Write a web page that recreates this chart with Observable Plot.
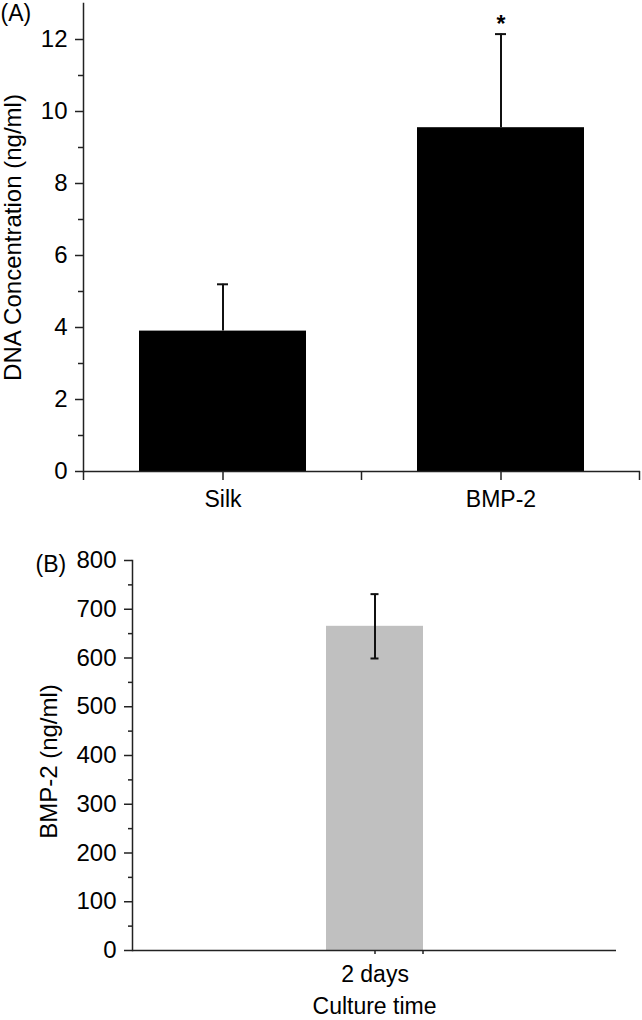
<!DOCTYPE html>
<html>
<head>
<meta charset="utf-8">
<script src="https://cdn.jsdelivr.net/npm/d3@7"></script>
<script src="https://cdn.jsdelivr.net/npm/@observablehq/plot@0.6"></script>
<style>
  html, body { margin: 0; padding: 0; background: #fff; }
  #wrap { position: relative; width: 642px; height: 1020px; }
  #panelA { position: absolute; left: 0; top: 0; }
  #panelB { position: absolute; left: 0; top: 520px; }
</style>
</head>
<body>
<div id="wrap"><div id="panelA"></div><div id="panelB"></div></div>
<script>
// ---- Data ----
const categoriesA = ["Silk", "BMP-2"];
const dnaMean = [3.9, 9.55];
const dnaError = [1.3, 2.6];
const significant = [false, true];
const yTicksA = [0, 2, 4, 6, 8, 10, 12];
const yMinorTicksA = [1, 3, 5, 7, 9, 11];

const categoriesB = ["2 days"];
const bmpMean = [665];
const bmpError = [66];
const yTicksB = [0, 100, 200, 300, 400, 500, 600, 700, 800];
const yMinorTicksB = [50, 150, 250, 350, 450, 550, 650, 750];

const FONT = "'Liberation Sans', Arial, Helvetica, sans-serif";
const FS = 23;
const FSY = 24;
const AX = "#222";

const rowsA = categoriesA.map((c, i) => ({cat: c, mean: dnaMean[i], hi: dnaMean[i] + dnaError[i], sig: significant[i]}));
const rowsB = categoriesB.map((c, i) => ({cat: c, mean: bmpMean[i], lo: bmpMean[i] - bmpError[i], hi: bmpMean[i] + bmpError[i]}));

function addBoundaryTicks(svg, plot, domain, len) {
  const sx = plot.scale("x"), sy = plot.scale("y");
  const half = (sx.step - sx.bandwidth) / 2;
  const xs = domain.map(c => sx.apply(c) - half);
  xs.push(sx.apply(domain[domain.length - 1]) + sx.bandwidth + half);
  const y0 = sy.apply(0);
  d3.select(svg).append("g")
    .attr("stroke", AX).attr("stroke-width", 1.5)
    .selectAll("line").data(xs).join("line")
    .attr("x1", d => d).attr("x2", d => d)
    .attr("y1", y0).attr("y2", y0 + len);
}

// ---- Panel A ----
const plotA = Plot.plot({
  width: 642,
  height: 520,
  marginTop: 3,
  marginBottom: 49,
  marginLeft: 83,
  marginRight: 2,
  style: {fontFamily: FONT, fontSize: FS + "px", color: "#000", background: "transparent"},
  x: {type: "band", domain: categoriesA, paddingInner: 0.4, paddingOuter: 0.2},
  y: {domain: [0, 13]},
  marks: [
    Plot.barY(rowsA, {x: "cat", y: "mean", fill: "#000", inset: 0}),
    Plot.ruleX(rowsA, {x: "cat", y1: "mean", y2: "hi", stroke: "#111", strokeWidth: 2}),
    Plot.tickY(rowsA, {x: "cat", y: "hi", stroke: "#111", strokeWidth: 2, insetLeft: 78, insetRight: 78}),
    Plot.text(rowsA.filter(d => d.sig), {x: "cat", y: "hi", text: () => "*", fontSize: 23, fontWeight: "bold", lineAnchor: "bottom", dy: -2}),
    Plot.frame({anchor: "left", stroke: AX, strokeWidth: 1.5}),
    Plot.ruleY([0], {stroke: AX, strokeWidth: 1.5}),
    Plot.axisY({ticks: yTicksA, tickSize: 8, tickPadding: 8, fontSize: FSY, label: null, stroke: AX, strokeWidth: 1.5}),
    Plot.axisY({ticks: yMinorTicksA, tickSize: 5, tickFormat: () => "", label: null, stroke: AX, strokeWidth: 1.5}),
    Plot.axisX({tickSize: 9, tickPadding: 10, fontSize: FS, label: null, stroke: AX, strokeWidth: 1.5}),
    Plot.text(["DNA Concentration (ng/ml)"], {frameAnchor: "left", textAnchor: "middle", rotate: -90, dx: -70, lineAnchor: "middle", fontSize: FSY}),
    Plot.text(["(A)"], {frameAnchor: "top-left", textAnchor: "start", lineAnchor: "middle", dx: -83, dy: 10, fontSize: FS})
  ]
});
addBoundaryTicks(plotA, plotA, categoriesA, 9);
document.getElementById("panelA").appendChild(plotA);

// ---- Panel B ----
const plotB = Plot.plot({
  width: 642,
  height: 500,
  marginTop: 40,
  marginBottom: 70,
  marginLeft: 132,
  marginRight: 26,
  style: {fontFamily: FONT, fontSize: FS + "px", color: "#000", background: "transparent"},
  x: {type: "band", domain: categoriesB, paddingInner: 0, paddingOuter: 1.97},
  y: {domain: [0, 800]},
  marks: [
    Plot.barY(rowsB, {x: "cat", y: "mean", fill: "#c0c0c0", inset: 0}),
    Plot.ruleX(rowsB, {x: "cat", y1: "lo", y2: "hi", stroke: "#111", strokeWidth: 2}),
    Plot.tickY(rowsB, {x: "cat", y: "hi", stroke: "#111", strokeWidth: 2, insetLeft: 44.5, insetRight: 44.5}),
    Plot.tickY(rowsB, {x: "cat", y: "lo", stroke: "#111", strokeWidth: 2, insetLeft: 44.5, insetRight: 44.5}),
    Plot.frame({anchor: "left", stroke: AX, strokeWidth: 1.5}),
    Plot.ruleY([0], {stroke: AX, strokeWidth: 1.5}),
    Plot.axisY({ticks: yTicksB, tickSize: 8, tickPadding: 8, fontSize: FSY, label: null, stroke: AX, strokeWidth: 1.5}),
    Plot.axisY({ticks: yMinorTicksB, tickSize: 4, tickFormat: () => "", label: null, stroke: AX, strokeWidth: 1.5}),
    Plot.axisX({tickSize: 4, tickPadding: 11, fontSize: FS, label: null, stroke: AX, strokeWidth: 1.5}),
    Plot.text(["BMP-2 (ng/ml)"], {frameAnchor: "left", textAnchor: "middle", rotate: -90, dx: -83, dy: 6, lineAnchor: "middle", fontSize: FSY}),
    Plot.text(["Culture time"], {frameAnchor: "bottom", lineAnchor: "middle", dy: 56, fontSize: FS}),
    Plot.text(["(B)"], {frameAnchor: "top-left", textAnchor: "start", lineAnchor: "middle", dx: -97, dy: 4, fontSize: FS})
  ]
});
{
  const sx = plotB.scale("x"), sy = plotB.scale("y");
  const xr = sx.apply(categoriesB[categoriesB.length - 1]) + sx.bandwidth + (sx.step - sx.bandwidth) / 2;
  d3.select(plotB).append("line")
    .attr("stroke", AX).attr("stroke-width", 1.5)
    .attr("x1", xr).attr("x2", xr).attr("y1", sy.apply(0)).attr("y2", sy.apply(0) + 4);
}
document.getElementById("panelB").appendChild(plotB);
</script>
</body>
</html>
